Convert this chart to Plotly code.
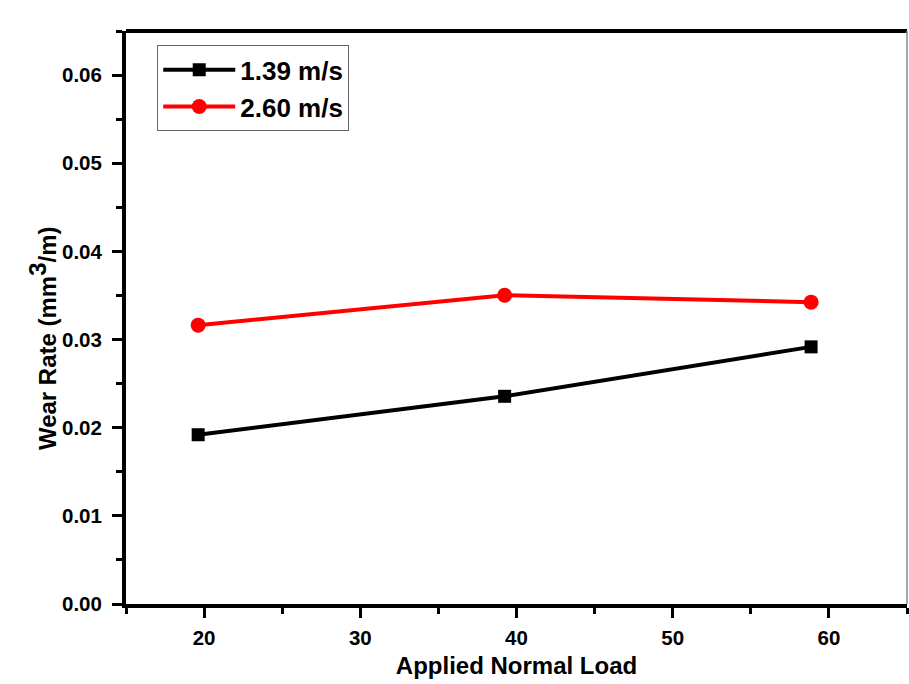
import plotly.graph_objects as go

load = [19.62, 39.24, 58.86]
wear_139 = [0.0192, 0.02356, 0.02917]
wear_260 = [0.03163, 0.03503, 0.03424]
names = ["1.39 m/s", "2.60 m/s"]
y_title = "Wear Rate (mm<sup><span style='font-size:24px'>3</span></sup>/m)"
x_title = "Applied Normal Load"

FONT = "Liberation Sans, Arial, sans-serif"

fig = go.Figure()
fig.add_trace(go.Scatter(x=load, y=wear_139, name=names[0], mode="lines+markers",
                         line=dict(color="black", width=4),
                         marker=dict(symbol="square", size=13, color="black")))
fig.add_trace(go.Scatter(x=load, y=wear_260, name=names[1], mode="lines+markers",
                         line=dict(color="#ff0000", width=4),
                         marker=dict(symbol="circle", size=15, color="#ff0000")))

axis_common = dict(showline=True, linecolor="black", linewidth=4, mirror=False,
                   ticks="outside", ticklen=10, tickwidth=3, tickcolor="black",
                   showgrid=False, zeroline=False,
                   tickfont=dict(family=FONT, size=20.5, color="black", weight="bold"))

fig.update_xaxes(range=[15, 65], dtick=10, tick0=0,
                 minor=dict(dtick=5, ticks="outside", ticklen=6, tickwidth=3, tickcolor="black"),
                 ticklabelstandoff=2,
                 title=dict(text=x_title, standoff=11,
                            font=dict(family=FONT, size=24, color="black", weight="bold")),
                 **axis_common)
fig.update_yaxes(range=[0, 0.065], dtick=0.01, tick0=0, tickformat=".2f",
                 minor=dict(dtick=0.005, ticks="outside", ticklen=6, tickwidth=3, tickcolor="black"),
                 ticklabelstandoff=6,
                 **axis_common)

fig.add_annotation(text=y_title, xref="paper", yref="paper", x=-0.1076, y=0.464,
                   textangle=-90, showarrow=False, xanchor="center", yanchor="middle",
                   font=dict(family=FONT, size=24, color="black", weight="bold"))

fig.add_shape(type="line", xref="paper", yref="paper", x0=0, x1=1, y0=1, y1=1,
              line=dict(color="black", width=4))
fig.add_shape(type="line", xref="paper", yref="paper", x0=1, x1=1, y0=0, y1=1,
              line=dict(color="#888888", width=1.5))

fig.update_layout(
    width=909, height=684,
    margin=dict(l=126, r=2, t=31, b=80),
    plot_bgcolor="white", paper_bgcolor="white",
    legend=dict(x=0.04, y=0.975, xanchor="left", yanchor="top",
                bordercolor="#666666", borderwidth=1, bgcolor="white",
                font=dict(family=FONT, size=26, color="black", weight="bold"),
                itemwidth=72, tracegroupgap=0),
)

fig.write_html("out.html")
